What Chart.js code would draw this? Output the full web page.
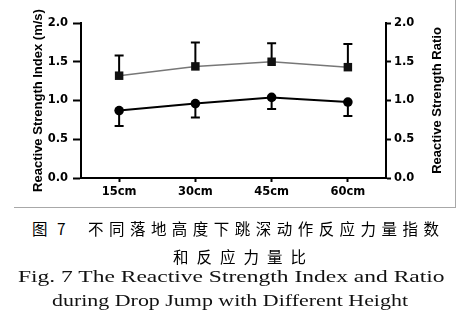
<!DOCTYPE html>
<html>
<head>
<meta charset="utf-8">
<script src="https://cdn.jsdelivr.net/npm/chart.js@4"></script>
<style>
  html, body { margin: 0; padding: 0; background: #fff; }
  #wrap { position: relative; width: 463px; height: 336px; overflow: hidden; }
  #chart-box { position: absolute; left: 0; top: 0; width: 463px; height: 207px; }
  .frame-r { position: absolute; left: 455px; top: 0; width: 1px; height: 208px; background: #a8a8a8; }
  .frame-b { position: absolute; left: 14px; top: 207px; width: 442px; height: 1px; background: #a8a8a8; }
  .cap { position: absolute; white-space: nowrap; color: #000; }
  .zh { font-family: "Noto Sans CJK SC", sans-serif; font-size: 15.5px; line-height: 16px; font-weight: 400; }
  .en { font-family: "Liberation Serif", "DejaVu Serif", serif; font-size: 16.5px; line-height: 18px; transform-origin: 0 50%; color: #111; }
</style>
</head>
<body>
<div id="wrap">
  <div id="chart-box"><canvas id="chart" width="463" height="207"></canvas></div>
  <div class="frame-r"></div>
  <div class="frame-b"></div>
  <div class="cap zh" style="left:32px; top:220px; letter-spacing:3px;">图 7</div>
  <div class="cap zh espaco" data-w="351" style="left:88px; top:220px;">不同落地高度下跳深动作反应力量指数</div>
  <div class="cap zh espaco" data-w="133" style="left:173px; top:248px;">和反应力量比</div>
  <div class="cap en esticar" data-w="427" style="left:18px; top:268px;">Fig. 7 The Reactive Strength Index and Ratio</div>
  <div class="cap en esticar" data-w="356" style="left:52px; top:292px;">during Drop Jump with Different Height</div>
</div>
<script>
// Dados
const categorias = ['15cm', '30cm', '45cm', '60cm'];
const rsi = [0.87, 0.96, 1.04, 0.98];        // Reactive Strength Index (m/s)
const rsiErro = [0.20, 0.18, 0.15, 0.18];    // barra para baixo
const ratio = [1.32, 1.44, 1.50, 1.43];      // Reactive Strength Ratio
const ratioErro = [0.26, 0.31, 0.24, 0.30];  // barra para cima
const yTicks = [0, 0.5, 1.0, 1.5, 2.0];

// Ajusta as legendas para ocupar a largura da figura original
function ajustarLegendas() {
  const ctx = document.createElement('canvas').getContext('2d');
  const medir = (el) => {
    const cs = getComputedStyle(el);
    ctx.font = `${cs.fontWeight} ${cs.fontSize} ${cs.fontFamily}`;
    return ctx.measureText(el.textContent).width;
  };
  document.querySelectorAll('.espaco').forEach((el) => {
    const n = el.textContent.length - 1;
    el.style.letterSpacing = ((Number(el.dataset.w) - medir(el)) / n) + 'px';
  });
  document.querySelectorAll('.esticar').forEach((el) => {
    el.style.transform = `scaleX(${Number(el.dataset.w) / medir(el)})`;
  });
}

const tickFont = { family: 'DejaVu Sans', size: 11.5, weight: 'bold' };

const errorBars = {
  id: 'errorBars',
  beforeDatasetsDraw(chart) {
    const ctx = chart.ctx;
    const x = chart.scales.x;
    chart.data.datasets.forEach((ds) => {
      const y = chart.scales[ds.yAxisID];
      ctx.save();
      ctx.strokeStyle = '#000';
      ctx.lineWidth = 2;
      ds.data.forEach((v, i) => {
        const px = x.getPixelForValue(i);
        const py0 = y.getPixelForValue(v);
        const py1 = y.getPixelForValue(v + ds.erroDir * ds.erro[i]);
        ctx.beginPath();
        ctx.moveTo(px, py0);
        ctx.lineTo(px, py1);
        ctx.moveTo(px - 4.5, py1);
        ctx.lineTo(px + 4.5, py1);
        ctx.stroke();
      });
      ctx.restore();
    });
  }
};

// titulo do eixo direito, lido de baixo para cima como o da esquerda
const tituloDireito = {
  id: 'tituloDireito',
  afterDraw(chart) {
    const ctx = chart.ctx;
    const a = chart.chartArea;
    ctx.save();
    ctx.translate(437, (a.top + a.bottom) / 2);
    ctx.rotate(-Math.PI / 2);
    ctx.font = 'bold 13px "Liberation Sans", Arial, sans-serif';
    ctx.fillStyle = '#000';
    ctx.textAlign = 'center';
    ctx.textBaseline = 'middle';
    ctx.fillText('Reactive Strength Ratio', 0, 0);
    ctx.restore();
  }
};

function eixoY(posicao, largura, tickLen, pad) {
  return {
    type: 'linear',
    position: posicao,
    min: 0,
    max: 2,
    afterBuildTicks: (s) => { s.ticks = yTicks.map((v) => ({ value: v })); },
    afterFit: (s) => { s.width = largura; },
    border: { display: true, color: '#000', width: 2 },
    grid: { drawOnChartArea: false, tickLength: tickLen, tickWidth: 2, tickColor: '#000' },
    ticks: { color: '#000', font: tickFont, padding: pad, callback: (v) => v.toFixed(1) },
  };
}

function criarGrafico() {
  const ctx = document.getElementById('chart').getContext('2d');
  const yLeft = eixoY('left', 81, 8, 5);
  yLeft.title = {
    display: true,
    text: 'Reactive Strength Index (m/s)',
    color: '#000',
    font: { family: 'Liberation Sans', size: 13, weight: 'bold' },
    padding: { top: 31, bottom: 0 },
  };
  const yRight = eixoY('right', 77, 5, 3);

  return new Chart(ctx, {
    type: 'line',
    data: {
      labels: categorias,
      datasets: [
        {
          label: 'Reactive Strength Ratio',
          data: ratio,
          erro: ratioErro,
          erroDir: 1,
          yAxisID: 'y1',
          borderColor: '#777',
          borderWidth: 1.5,
          pointStyle: 'rect',
          pointRadius: 6,
          pointBackgroundColor: '#111',
          pointBorderColor: '#111',
          pointBorderWidth: 0,
          tension: 0,
        },
        {
          label: 'Reactive Strength Index',
          data: rsi,
          erro: rsiErro,
          erroDir: -1,
          yAxisID: 'y',
          borderColor: '#000',
          borderWidth: 2,
          pointStyle: 'circle',
          pointRadius: 4.8,
          pointBackgroundColor: '#000',
          pointBorderColor: '#000',
          pointBorderWidth: 0,
          tension: 0,
        },
      ],
    },
    options: {
      responsive: false,
      animation: false,
      layout: { padding: { top: 23, left: 0, right: 0, bottom: 0 } },
      plugins: { legend: { display: false }, tooltip: { enabled: false } },
      scales: {
        x: {
          type: 'category',
          offset: true,
          afterFit: (s) => { s.height = 29; },
          border: { display: true, color: '#000', width: 2 },
          grid: { offset: false, drawOnChartArea: false, tickLength: 4, tickWidth: 2, tickColor: '#000' },
          ticks: { color: '#000', font: tickFont, padding: 3, maxRotation: 0 },
        },
        y: yLeft,
        y1: yRight,
      },
    },
    plugins: [errorBars, tituloDireito],
  });
}

ajustarLegendas();
criarGrafico();
</script>
</body>
</html>
